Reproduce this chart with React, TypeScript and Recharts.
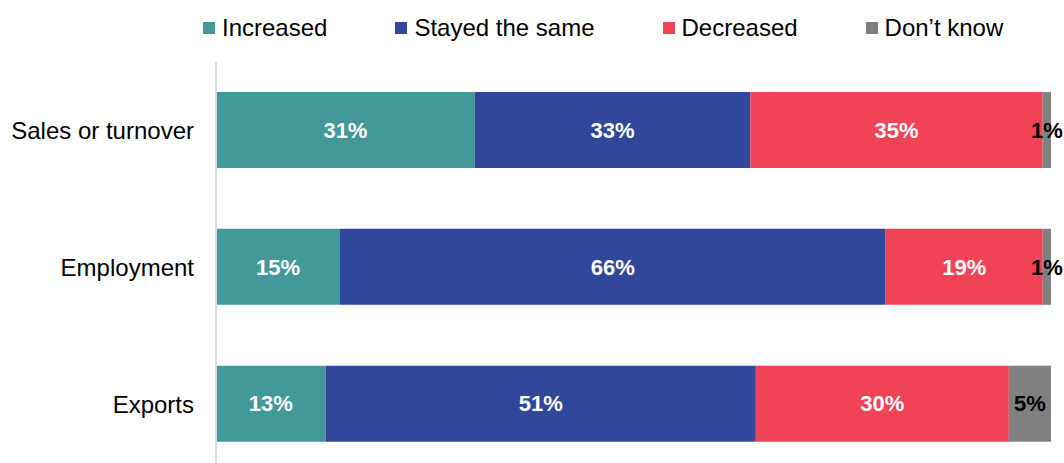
import { Bar, BarChart, LabelList, Legend, XAxis, YAxis } from "recharts";

const categories = ["Sales or turnover", "Employment", "Exports"];
const increased = [31, 15, 13];
const stayedSame = [33, 66, 51];
const decreased = [35, 19, 30];
const dontKnow = [1, 1, 5];

const seriesNames = ["Increased", "Stayed the same", "Decreased", "Don\u2019t know"];
const seriesKeys = ["increased", "stayedSame", "decreased", "dontKnow"];
const seriesColors = ["#43999a", "#31479c", "#f04355", "#808080"];
const labelColors = ["#ffffff", "#ffffff", "#ffffff", "#000000"];

const data = categories.map((name, i) => ({
  name,
  increased: increased[i],
  stayedSame: stayedSame[i],
  decreased: decreased[i],
  dontKnow: dontKnow[i],
}));

const FONT = "'Liberation Sans', Arial, sans-serif";

function ChartLegend() {
  return (
    <div style={{ display: "flex", paddingLeft: 203, fontFamily: FONT, fontSize: 24, color: "#000", whiteSpace: "nowrap" }}>
      {seriesNames.map((n, i) => (
        <div key={n} style={{ display: "flex", alignItems: "center", marginRight: 68, flexShrink: 0 }}>
          <span style={{ width: 12, height: 12, background: seriesColors[i], marginRight: 7, display: "inline-block", flexShrink: 0 }} />
          <span style={{ lineHeight: "28px" }}>{n}</span>
        </div>
      ))}
    </div>
  );
}

export default function App() {
  return (
    <div style={{ position: "fixed", top: 0, left: 0, width: 1064, height: 463, overflow: "hidden", background: "#fff" }}>
      <BarChart
        width={1064}
        height={480}
        data={data}
        layout="vertical"
        stackOffset="expand"
        barSize={76}
        margin={{ top: 62, right: 13, bottom: 7.5, left: 0 }}
      >
        <XAxis type="number" hide domain={[0, 1]} />
        <YAxis
          type="category"
          dataKey="name"
          width={216}
          axisLine={{ stroke: "#d9d9d9", strokeWidth: 2 }}
          tickLine={false}
          tickMargin={16}
          tick={{ fill: "#000", fontSize: 24, fontFamily: FONT }}
        />
        <Legend
          verticalAlign="middle"
          layout="horizontal"
          wrapperStyle={{ top: 14, left: 0, width: 1064 }}
          content={() => <ChartLegend />}
        />
        {seriesKeys.map((k, i) => (
          <Bar key={k} dataKey={k} name={seriesNames[i]} stackId="a" fill={seriesColors[i]} isAnimationActive={false}>
            <LabelList
              dataKey={k}
              position="center"
              formatter={(v: any) => `${v}%`}
              fill={labelColors[i]}
              style={{ fontSize: 22, fontWeight: "bold", fontFamily: FONT }}
            />
          </Bar>
        ))}
      </BarChart>
    </div>
  );
}
